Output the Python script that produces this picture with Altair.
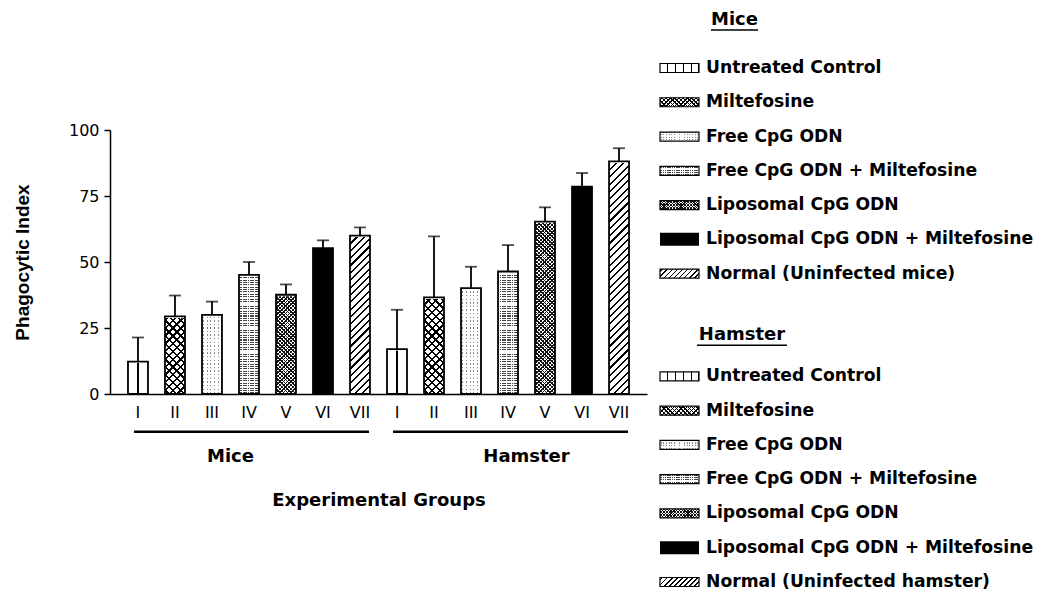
import math
import altair as alt
import pandas as pd

# ---------------- data ----------------
romans = ["I", "II", "III", "IV", "V", "VI", "VII"]
groups = ["Mice", "Hamster"]
mice_labels = ["Untreated Control", "Miltefosine", "Free CpG ODN", "Free CpG ODN + Miltefosine",
               "Liposomal CpG  ODN", "Liposomal CpG ODN + Miltefosine", "Normal (Uninfected mice)"]
hamster_labels = ["Untreated Control", "Miltefosine", "Free CpG ODN", "Free CpG ODN + Miltefosine",
                  "Liposomal CpG  ODN", "Liposomal CpG ODN + Miltefosine", "Normal (Uninfected hamster)"]
mice_mean = [12.3, 29.4, 30.0, 45.1, 37.6, 55.2, 60.0]
mice_upper = [21.4, 37.3, 35.0, 50.0, 41.5, 58.2, 63.1]
hamster_mean = [17.0, 36.6, 40.1, 46.4, 65.3, 78.5, 88.1]
hamster_upper = [31.9, 59.7, 48.2, 56.4, 70.7, 83.7, 93.1]
y_ticks = [0, 25, 50, 75, 100]

# ---------------- tables ----------------
rows = []
for g, means, uppers in (("Mice", mice_mean, mice_upper), ("Hamster", hamster_mean, hamster_upper)):
    for i, r in enumerate(romans):
        rows.append({"key": f"{g}-{r}", "group": g, "tidx": i, "mean": means[i], "upper": uppers[i]})
bars = pd.DataFrame(rows)
keys = list(bars["key"])

grp = pd.DataFrame({
    "group": groups,
    "first_key": [f"{g}-{romans[0]}" for g in groups],
    "last_key": [f"{g}-{romans[-1]}" for g in groups],
    "label_key": [f"Mice-{romans[2]}", f"Hamster-{romans[3]}"],
})

leg_rows = []
for gi, labels in enumerate((mice_labels, hamster_labels)):
    for i, lab in enumerate(labels):
        leg_rows.append({"tidx": i, "label": lab, "row": i + 9 * gi})
leg = pd.DataFrame(leg_rows)

# ---------------- hatch patterns as striped gradients ----------------
CLEAR = "rgba(255,255,255,0)"


def stripes(kind, w, h, period, lw, color, bg="white", phase=None):
    if phase is None:
        phase = period / 2
    if kind == "v":
        L = w
        c = dict(x1=0, y1=0, x2=1, y2=0)
    elif kind == "h":
        L = h
        c = dict(x1=0, y1=0, x2=0, y2=1)
    else:
        r = h / w
        k = (1 + r) / (1 + r * r)
        L = (w + h) / math.sqrt(2)
        if kind == "/":
            c = dict(x1=0, y1=0, x2=k, y2=k * r)
        else:
            c = dict(x1=0, y1=1, x2=k, y2=1 - k * r)
    stops = [{"offset": 0, "color": bg}]
    ctr = phase
    while ctr - lw / 2 < L:
        a = round(max(0.0, (ctr - lw / 2) / L), 5)
        b = round(min(1.0, (ctr + lw / 2) / L), 5)
        stops += [{"offset": a, "color": bg}, {"offset": a, "color": color},
                  {"offset": b, "color": color}, {"offset": b, "color": bg}]
        ctr += period
    stops.append({"offset": 1, "color": bg})
    return dict(gradient="linear", stops=stops, **c)


BW, BH = 19.98, 264.0   # full-height pattern box of a bar
bar_patterns = {
    0: [stripes("v", BW, BH, 40, 1.3, "black", phase=BW / 2)],
    1: [stripes("/", BW, BH, 5.5, 1.6, "black"), stripes("\\", BW, BH, 5.5, 1.6, "black", bg=CLEAR)],
    2: [stripes("v", BW, BH, 3.6, 1.0, "#8a8a8a"), stripes("h", BW, BH, 3.6, 2.2, "white", bg=CLEAR)],
    3: [stripes("h", BW, BH, 2.4, 1.0, "#444444"), stripes("v", BW, BH, 2.4, 0.6, "white", bg=CLEAR)],
    4: [stripes("/", BW, BH, 2.6, 1.0, "#111111"), stripes("\\", BW, BH, 2.6, 1.0, "#111111", bg=CLEAR)],
    5: [],
    6: [stripes("/", BW, BH, 5.2, 1.5, "black")],
}
LW, LH = 39.0, 9.0
leg_patterns = {
    0: [stripes("v", LW, LH, 7.8, 1.2, "black", phase=7.8)],
    1: [stripes("/", LW, LH, 3.0, 1.0, "black"), stripes("\\", LW, LH, 3.0, 1.0, "black", bg=CLEAR)],
    2: [stripes("v", LW, LH, 2.6, 0.8, "#8a8a8a"), stripes("h", LW, LH, 2.6, 1.4, "white", bg=CLEAR)],
    3: [stripes("h", LW, LH, 1.8, 0.9, "#444444"), stripes("v", LW, LH, 1.8, 0.5, "white", bg=CLEAR)],
    4: [stripes("/", LW, LH, 2.0, 0.8, "#111111"), stripes("\\", LW, LH, 2.0, 0.8, "#111111", bg=CLEAR)],
    5: ["black"],
    6: [stripes("/", LW, LH, 3.6, 1.1, "black")],
}

# ---------------- main panel ----------------
xscale = alt.Scale(domain=keys, paddingInner=0.46, paddingOuter=0.486)
yscale = alt.Scale(domain=[0, 100], range=[386, 122], nice=False, zero=True)

x_axis = alt.Axis(title="Experimental Groups", labelExpr="split(datum.label, '-')[1]", labelAngle=0,
                  ticks=False, tickSize=0, labelPadding=10, labelFont="DejaVu Sans", labelFontSize=16,
                  labelColor="black", domainColor="black", domainWidth=1.5, titleFont="DejaVu Sans",
                  titleFontSize=18, titleFontWeight="bold", titleColor="black", titlePadding=71, grid=False)
y_axis = alt.Axis(values=y_ticks, title="Phagocytic Index", titleFont="Liberation Sans", titleFontSize=19,
                  titleFontWeight="bold", titleColor="black", titlePadding=36, labelFont="DejaVu Sans",
                  labelFontSize=16, labelColor="black", labelPadding=5, tickSize=6, tickWidth=1.5,
                  tickColor="black", domainColor="black", domainWidth=1.5, grid=False)


def XF(field):
    return alt.X(field, type="nominal", scale=xscale, axis=x_axis, title="Experimental Groups")


def YF(field=None, datum=None):
    if datum is not None:
        return alt.Y(datum=datum, type="quantitative", scale=yscale, axis=y_axis, title="Phagocytic Index")
    return alt.Y(field, type="quantitative", scale=yscale, axis=y_axis, title="Phagocytic Index")


base = alt.Chart(bars)

layers = []
for t in range(7):
    for f in bar_patterns[t]:
        layers.append(base.transform_filter(alt.datum.tidx == t).mark_bar(fill=f, strokeWidth=0).encode(
            x=XF("key"), y=YF(datum=100), y2=alt.Y2(datum=0)))

cover = base.mark_bar(fill="white", stroke="white", strokeWidth=3).encode(
    x=XF("key"), y=YF("mean"), y2=alt.Y2(datum=100))
solid = base.transform_filter(alt.datum.tidx == 5).mark_bar(fill="black", strokeWidth=0).encode(
    x=XF("key"), y=YF("mean"), y2=alt.Y2(datum=0))
outline = base.mark_bar(fill="transparent", stroke="black", strokeWidth=1.8).encode(
    x=XF("key"), y=YF("mean"), y2=alt.Y2(datum=0))
err = base.mark_rule(color="black", strokeWidth=1.8).encode(
    x=XF("key"), y=YF("mean"), y2="upper:Q")
cap = base.mark_tick(color="black", size=12, thickness=1.8).encode(
    x=XF("key"), y=YF("upper"))

gline = alt.Chart(grp).mark_rule(color="black", strokeWidth=2.6, xOffset=-4, x2Offset=9).encode(
    x=XF("first_key"), x2="last_key:N", y=YF(datum=-14.3))
glabel = alt.Chart(grp).mark_text(dx=18.5, font="DejaVu Sans", fontWeight="bold", fontSize=18,
                                  baseline="middle", color="black").encode(
    x=XF("label_key"), y=YF(datum=-24.0), text="group:N")

main = alt.layer(*layers, cover, solid, outline, err, cap, gline, glabel).properties(width=537, height=386)

# ---------------- legend panel ----------------
yleg = alt.Scale(domain=[0, 15], range=[60, 574])
lbase = alt.Chart(leg)
SX0, SX1, TX = 7, 46, 53
leg_layers = []
for t in range(7):
    hh = 13 if t == 5 else LH
    for f in leg_patterns[t]:
        leg_layers.append(lbase.transform_filter(alt.datum.tidx == t).mark_rect(
            fill=f, strokeWidth=0, yOffset=-hh / 2, y2Offset=hh / 2).encode(
            x=alt.value(SX0), x2=alt.value(SX1), y=alt.Y("row:Q", scale=yleg, axis=None), y2="row:Q"))
leg_outline = lbase.transform_filter(alt.datum.tidx != 5).mark_rect(
    fill="transparent", stroke="black", strokeWidth=1.2, yOffset=-LH / 2, y2Offset=LH / 2).encode(
    x=alt.value(SX0), x2=alt.value(SX1), y=alt.Y("row:Q", scale=yleg, axis=None), y2="row:Q")
leg_text = lbase.mark_text(align="left", baseline="middle", font="DejaVu Sans", fontWeight="bold",
                           fontSize=17.2, color="black").encode(
    x=alt.value(TX), y=alt.Y("row:Q", scale=yleg, axis=None), text="label:N")

hdr = pd.DataFrame({"name": groups, "row": [-1.4, 7.8]})
hdr_layers = []
for name, cx, half in (("Mice", 81.5, 23.5), ("Hamster", 89, 45)):
    hb = alt.Chart(hdr).transform_filter(alt.datum.name == name)
    hdr_layers.append(hb.mark_text(align="center", baseline="middle", font="DejaVu Sans", fontWeight="bold",
                                   fontSize=18, color="black").encode(
        x=alt.value(cx), y=alt.Y("row:Q", scale=yleg, axis=None), text="name:N"))
    hdr_layers.append(hb.mark_rule(color="black", strokeWidth=1.5, yOffset=10).encode(
        x=alt.value(cx - half), x2=alt.value(cx + half), y=alt.Y("row:Q", scale=yleg, axis=None)))

legend = alt.layer(*leg_layers, leg_outline, leg_text, *hdr_layers).properties(width=370, height=572)

chart = alt.hconcat(main, legend, spacing=6).configure_view(stroke=None).properties(
    background="white", padding={"left": 5, "top": 0, "right": 0, "bottom": 0})

chart.save("out.html", embed_options={"renderer": "svg", "actions": False})
